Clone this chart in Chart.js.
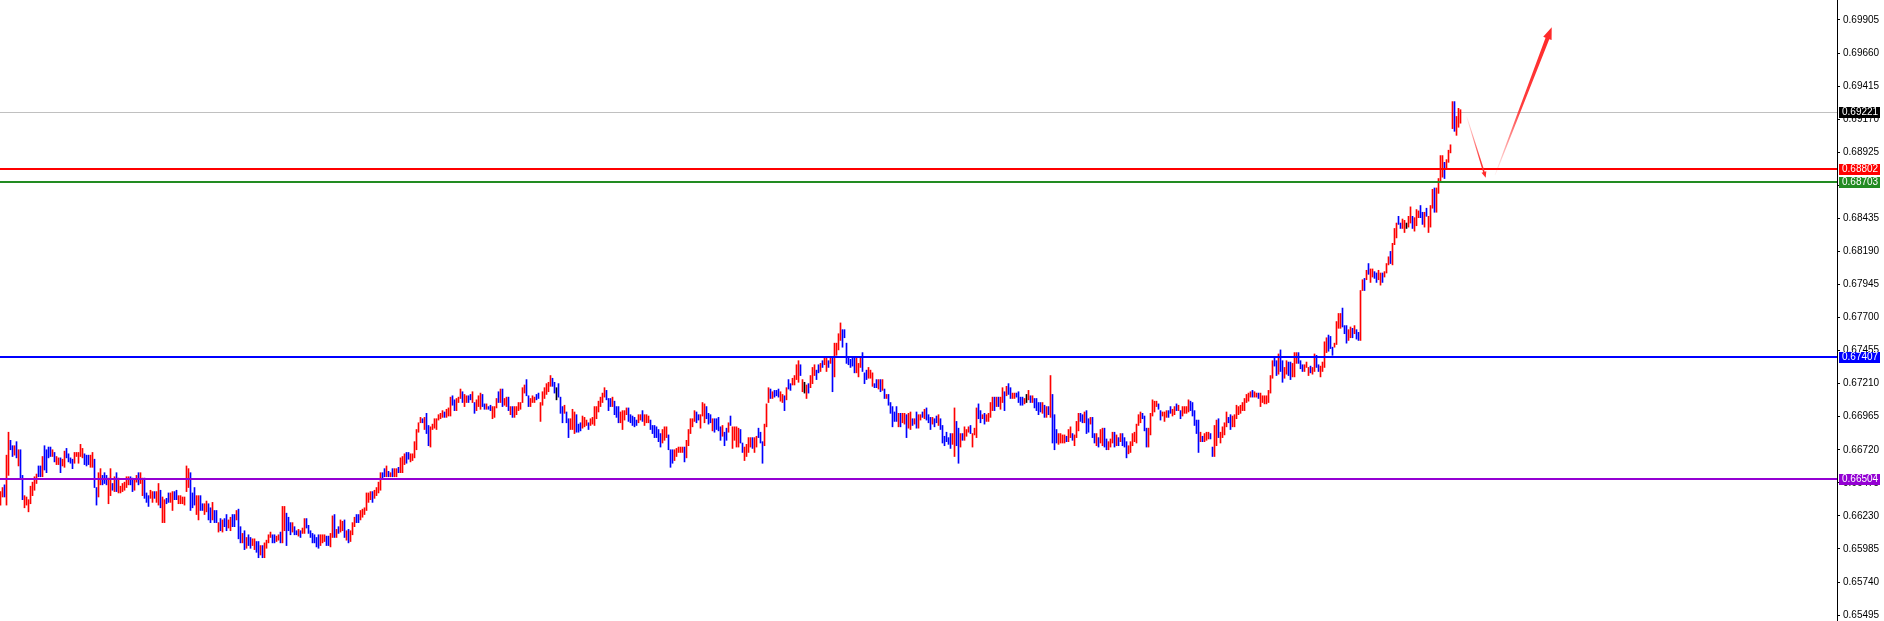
<!DOCTYPE html>
<html>
<head>
<meta charset="utf-8">
<script src="https://cdn.jsdelivr.net/npm/chart.js@4.4.1/dist/chart.umd.min.js"></script>
<style>
  html, body { margin: 0; padding: 0; background: #fff; }
  #wrap { width: 1884px; height: 621px; }
</style>
</head>
<body>
<div id="wrap"><canvas id="chart" width="1884" height="621"></canvas></div>
<script>
// bar highs, oldest first (10 per line)
const highs = [
  0.6641,0.6644,0.6646,0.6668,0.6685,0.6679,0.6675,0.6675,0.6678,0.6672,
  0.6672,0.6653,0.6638,0.6637,0.6635,0.6645,0.6648,0.6652,0.6654,0.6660,
  0.6660,0.6667,0.6675,0.6672,0.6674,0.6674,0.6672,0.6670,0.6667,0.6666,
  0.6666,0.6665,0.6671,0.6673,0.6669,0.6666,0.6665,0.6670,0.6670,0.6670,
  0.6676,0.6673,0.6669,0.6668,0.6668,0.6668,0.6670,0.6665,0.6644,0.6655,
  0.6658,0.6653,0.6655,0.6653,0.6651,0.6658,0.6647,0.6652,0.6655,0.6651,
  0.6645,0.6647,0.6648,0.6652,0.6652,0.6652,0.6651,0.6650,0.6653,0.6655,
  0.6655,0.6651,0.6651,0.6640,0.6638,0.6642,0.6641,0.6641,0.6641,0.6647,
  0.6642,0.6637,0.6635,0.6636,0.6640,0.6640,0.6641,0.6641,0.6642,0.6638,
  0.6638,0.6637,0.6637,0.6660,0.6658,0.6655,0.6640,0.6644,0.6638,0.6638,
  0.6638,0.6632,0.6632,0.6634,0.6632,0.6629,0.6633,0.6627,0.6627,0.6618,
  0.6621,0.6620,0.6621,0.6624,0.6620,0.6622,0.6624,0.6624,0.6627,0.6628,
  0.6615,0.6610,0.6612,0.6607,0.6609,0.6607,0.6606,0.6606,0.6604,0.6604,
  0.6601,0.6601,0.6603,0.6605,0.6609,0.6611,0.6609,0.6609,0.6608,0.6609,
  0.6611,0.6630,0.6630,0.6625,0.6622,0.6618,0.6618,0.6615,0.6612,0.6613,
  0.6612,0.6614,0.6621,0.6621,0.6616,0.6612,0.6610,0.6609,0.6607,0.6609,
  0.6609,0.6609,0.6609,0.6608,0.6608,0.6610,0.6623,0.6624,0.6613,0.6615,
  0.6620,0.6619,0.6620,0.6612,0.6613,0.6612,0.6618,0.6622,0.6624,0.6624,
  0.6627,0.6628,0.6629,0.6640,0.6640,0.6641,0.6641,0.6642,0.6644,0.6648,
  0.6655,0.6655,0.6658,0.6660,0.6656,0.6655,0.6658,0.6658,0.6658,0.6659,
  0.6666,0.6667,0.6669,0.6670,0.6670,0.6669,0.6669,0.6678,0.6687,0.6692,
  0.6696,0.6695,0.6696,0.6699,0.6690,0.6689,0.6691,0.6695,0.6695,0.6698,
  0.6699,0.6701,0.6700,0.6702,0.6703,0.6711,0.6712,0.6709,0.6710,0.6711,
  0.6717,0.6715,0.6713,0.6712,0.6712,0.6713,0.6715,0.6707,0.6709,0.6712,
  0.6714,0.6713,0.6706,0.6706,0.6704,0.6705,0.6704,0.6704,0.6710,0.6715,
  0.6717,0.6717,0.6710,0.6711,0.6711,0.6704,0.6704,0.6704,0.6704,0.6707,
  0.6707,0.6718,0.6720,0.6724,0.6712,0.6710,0.6712,0.6711,0.6713,0.6714,
  0.6707,0.6715,0.6718,0.6721,0.6722,0.6727,0.6725,0.6722,0.6718,0.6721,
  0.6711,0.6704,0.6705,0.6700,0.6695,0.6695,0.6702,0.6700,0.6698,0.6691,
  0.6692,0.6697,0.6696,0.6694,0.6692,0.6695,0.6696,0.6704,0.6704,0.6708,
  0.6711,0.6714,0.6718,0.6716,0.6710,0.6710,0.6711,0.6708,0.6704,0.6704,
  0.6700,0.6701,0.6701,0.6703,0.6703,0.6698,0.6697,0.6696,0.6694,0.6698,
  0.6698,0.6701,0.6698,0.6698,0.6697,0.6694,0.6690,0.6690,0.6689,0.6687,
  0.6684,0.6687,0.6689,0.6689,0.6683,0.6672,0.6672,0.6672,0.6673,0.6674,
  0.6674,0.6674,0.6674,0.6679,0.6687,0.6695,0.6695,0.6701,0.6700,0.6698,
  0.6698,0.6707,0.6706,0.6704,0.6699,0.6698,0.6695,0.6695,0.6695,0.6696,
  0.6689,0.6690,0.6685,0.6688,0.6692,0.6697,0.6689,0.6689,0.6689,0.6688,
  0.6687,0.6677,0.6674,0.6676,0.6681,0.6681,0.6681,0.6681,0.6682,0.6688,
  0.6685,0.6678,0.6691,0.6706,0.6718,0.6717,0.6715,0.6716,0.6716,0.6717,
  0.6715,0.6713,0.6712,0.6718,0.6724,0.6721,0.6725,0.6727,0.6735,0.6738,
  0.6735,0.6724,0.6722,0.6720,0.6721,0.6727,0.6733,0.6735,0.6731,0.6735,
  0.6736,0.6738,0.6741,0.6741,0.6738,0.6740,0.6741,0.6751,0.6751,0.6758,
  0.6766,0.6761,0.6761,0.6751,0.6740,0.6739,0.6740,0.6741,0.6741,0.6736,
  0.6741,0.6744,0.6729,0.6731,0.6733,0.6731,0.6729,0.6721,0.6724,0.6724,
  0.6724,0.6724,0.6717,0.6713,0.6713,0.6707,0.6704,0.6700,0.6704,0.6699,
  0.6699,0.6699,0.6699,0.6698,0.6699,0.6700,0.6695,0.6695,0.6700,0.6698,
  0.6698,0.6700,0.6702,0.6703,0.6698,0.6696,0.6696,0.6695,0.6697,0.6698,
  0.6695,0.6690,0.6682,0.6685,0.6681,0.6684,0.6684,0.6703,0.6693,0.6688,
  0.6684,0.6684,0.6689,0.6687,0.6689,0.6690,0.6684,0.6688,0.6703,0.6706,
  0.6701,0.6698,0.6699,0.6698,0.6699,0.6707,0.6711,0.6711,0.6711,0.6711,
  0.6711,0.6718,0.6715,0.6719,0.6721,0.6718,0.6714,0.6714,0.6714,0.6715,
  0.6711,0.6711,0.6710,0.6713,0.6716,0.6712,0.6712,0.6710,0.6710,0.6707,
  0.6707,0.6707,0.6705,0.6704,0.6704,0.6727,0.6713,0.6698,0.6687,0.6684,
  0.6684,0.6683,0.6683,0.6682,0.6687,0.6689,0.6684,0.6683,0.6693,0.6699,
  0.6699,0.6698,0.6700,0.6701,0.6695,0.6696,0.6696,0.6684,0.6684,0.6681,
  0.6687,0.6688,0.6688,0.6680,0.6678,0.6680,0.6685,0.6685,0.6683,0.6681,
  0.6684,0.6684,0.6681,0.6678,0.6675,0.6678,0.6684,0.6685,0.6691,0.6698,
  0.6700,0.6699,0.6697,0.6688,0.6688,0.6699,0.6709,0.6708,0.6708,0.6706,
  0.6701,0.6700,0.6700,0.6701,0.6701,0.6704,0.6702,0.6704,0.6706,0.6705,
  0.6701,0.6704,0.6704,0.6704,0.6709,0.6708,0.6707,0.6701,0.6694,0.6694,
  0.6685,0.6682,0.6684,0.6685,0.6685,0.6684,0.6674,0.6690,0.6694,0.6695,
  0.6685,0.6689,0.6692,0.6700,0.6696,0.6698,0.6697,0.6698,0.6705,0.6704,
  0.6705,0.6707,0.6710,0.6713,0.6714,0.6715,0.6716,0.6715,0.6714,0.6714,
  0.6714,0.6712,0.6712,0.6712,0.6716,0.6727,0.6738,0.6741,0.6738,0.6743,
  0.6746,0.6738,0.6733,0.6738,0.6737,0.6737,0.6736,0.6744,0.6744,0.6744,
  0.6738,0.6735,0.6735,0.6737,0.6733,0.6734,0.6733,0.6743,0.6742,0.6735,
  0.6734,0.6737,0.6752,0.6755,0.6757,0.6756,0.6748,0.6751,0.6767,0.6773,
  0.6773,0.6777,0.6764,0.6764,0.6761,0.6763,0.6762,0.6764,0.6761,0.6759,
  0.6790,0.6798,0.6799,0.6805,0.6810,0.6806,0.6806,0.6804,0.6803,0.6805,
  0.6803,0.6803,0.6804,0.6810,0.6815,0.6819,0.6825,0.6836,0.6840,0.6845,
  0.6840,0.6843,0.6842,0.6840,0.6845,0.6852,0.6845,0.6844,0.6850,0.6849,
  0.6853,0.6848,0.6848,0.6851,0.6845,0.6853,0.6865,0.6866,0.6866,0.6873,
  0.6890,0.6890,0.6885,0.6887,0.6894,0.6898,0.6930,0.6930,0.6919,0.6925,
  0.6924
];

// bar lows, same order
const lows = [
  0.6631,0.6637,0.6637,0.6631,0.6653,0.6672,0.6667,0.6668,0.6666,0.6660,
  0.6650,0.6635,0.6629,0.6631,0.6626,0.6632,0.6638,0.6642,0.6647,0.6652,
  0.6652,0.6652,0.6657,0.6655,0.6666,0.6667,0.6667,0.6663,0.6661,0.6661,
  0.6655,0.6660,0.6659,0.6666,0.6663,0.6662,0.6658,0.6662,0.6667,0.6662,
  0.6667,0.6666,0.6661,0.6660,0.6661,0.6659,0.6659,0.6644,0.6631,0.6637,
  0.6646,0.6646,0.6647,0.6646,0.6632,0.6638,0.6642,0.6641,0.6641,0.6640,
  0.6640,0.6641,0.6642,0.6644,0.6646,0.6646,0.6641,0.6642,0.6648,0.6646,
  0.6647,0.6638,0.6636,0.6633,0.6630,0.6636,0.6633,0.6636,0.6633,0.6631,
  0.6629,0.6618,0.6618,0.6632,0.6633,0.6633,0.6627,0.6635,0.6635,0.6632,
  0.6632,0.6632,0.6631,0.6641,0.6644,0.6627,0.6629,0.6631,0.6624,0.6620,
  0.6627,0.6627,0.6624,0.6626,0.6620,0.6618,0.6620,0.6618,0.6618,0.6611,
  0.6612,0.6611,0.6615,0.6612,0.6614,0.6612,0.6615,0.6615,0.6620,0.6606,
  0.6603,0.6603,0.6598,0.6599,0.6601,0.6599,0.6601,0.6598,0.6596,0.6592,
  0.6594,0.6592,0.6592,0.6599,0.6603,0.6607,0.6603,0.6603,0.6604,0.6605,
  0.6603,0.6603,0.6612,0.6601,0.6612,0.6609,0.6611,0.6609,0.6609,0.6608,
  0.6607,0.6610,0.6610,0.6614,0.6610,0.6607,0.6603,0.6603,0.6600,0.6599,
  0.6601,0.6603,0.6604,0.6601,0.6601,0.6600,0.6607,0.6607,0.6607,0.6610,
  0.6611,0.6612,0.6607,0.6605,0.6603,0.6604,0.6609,0.6615,0.6618,0.6618,
  0.6620,0.6622,0.6624,0.6627,0.6633,0.6635,0.6633,0.6636,0.6638,0.6640,
  0.6642,0.6650,0.6652,0.6652,0.6652,0.6652,0.6652,0.6652,0.6652,0.6655,
  0.6655,0.6655,0.6661,0.6662,0.6665,0.6663,0.6664,0.6666,0.6672,0.6685,
  0.6692,0.6692,0.6687,0.6684,0.6675,0.6674,0.6687,0.6688,0.6687,0.6694,
  0.6695,0.6696,0.6696,0.6696,0.6697,0.6697,0.6705,0.6701,0.6701,0.6707,
  0.6710,0.6707,0.6704,0.6707,0.6707,0.6709,0.6707,0.6699,0.6701,0.6704,
  0.6702,0.6704,0.6702,0.6702,0.6702,0.6701,0.6695,0.6696,0.6703,0.6707,
  0.6707,0.6704,0.6705,0.6704,0.6701,0.6698,0.6696,0.6696,0.6698,0.6701,
  0.6702,0.6707,0.6714,0.6712,0.6704,0.6704,0.6707,0.6707,0.6709,0.6710,
  0.6693,0.6705,0.6710,0.6713,0.6715,0.6719,0.6719,0.6714,0.6709,0.6711,
  0.6699,0.6692,0.6699,0.6692,0.6681,0.6687,0.6687,0.6684,0.6685,0.6685,
  0.6686,0.6688,0.6689,0.6690,0.6687,0.6690,0.6691,0.6690,0.6695,0.6700,
  0.6704,0.6707,0.6711,0.6709,0.6701,0.6704,0.6704,0.6698,0.6696,0.6692,
  0.6692,0.6687,0.6694,0.6698,0.6693,0.6692,0.6690,0.6689,0.6690,0.6692,
  0.6694,0.6693,0.6690,0.6692,0.6692,0.6687,0.6684,0.6681,0.6681,0.6678,
  0.6674,0.6677,0.6679,0.6681,0.6672,0.6659,0.6662,0.6664,0.6667,0.6670,
  0.6670,0.6670,0.6663,0.6666,0.6675,0.6684,0.6689,0.6693,0.6692,0.6694,
  0.6688,0.6697,0.6692,0.6695,0.6691,0.6692,0.6686,0.6685,0.6687,0.6686,
  0.6679,0.6682,0.6675,0.6679,0.6685,0.6690,0.6673,0.6679,0.6674,0.6674,
  0.6677,0.6670,0.6664,0.6667,0.6670,0.6674,0.6673,0.6670,0.6674,0.6681,
  0.6677,0.6662,0.6675,0.6689,0.6707,0.6710,0.6710,0.6711,0.6712,0.6711,
  0.6708,0.6707,0.6701,0.6709,0.6717,0.6716,0.6720,0.6720,0.6724,0.6722,
  0.6727,0.6715,0.6714,0.6710,0.6714,0.6718,0.6721,0.6727,0.6724,0.6729,
  0.6730,0.6733,0.6735,0.6730,0.6733,0.6736,0.6715,0.6726,0.6742,0.6746,
  0.6753,0.6748,0.6755,0.6736,0.6735,0.6733,0.6734,0.6729,0.6729,0.6726,
  0.6733,0.6730,0.6721,0.6724,0.6725,0.6725,0.6719,0.6718,0.6718,0.6717,
  0.6715,0.6716,0.6710,0.6710,0.6705,0.6699,0.6689,0.6693,0.6693,0.6689,
  0.6689,0.6692,0.6691,0.6681,0.6688,0.6687,0.6690,0.6691,0.6688,0.6688,
  0.6694,0.6696,0.6695,0.6694,0.6692,0.6687,0.6691,0.6689,0.6692,0.6690,
  0.6687,0.6677,0.6675,0.6678,0.6676,0.6673,0.6676,0.6667,0.6675,0.6662,
  0.6674,0.6679,0.6679,0.6682,0.6685,0.6684,0.6674,0.6683,0.6681,0.6695,
  0.6692,0.6695,0.6691,0.6693,0.6693,0.6696,0.6701,0.6701,0.6704,0.6704,
  0.6702,0.6707,0.6701,0.6712,0.6713,0.6710,0.6710,0.6710,0.6711,0.6707,
  0.6705,0.6705,0.6706,0.6707,0.6709,0.6707,0.6707,0.6703,0.6701,0.6698,
  0.6700,0.6699,0.6696,0.6696,0.6698,0.6696,0.6677,0.6672,0.6677,0.6676,
  0.6677,0.6677,0.6677,0.6678,0.6678,0.6681,0.6679,0.6675,0.6681,0.6686,
  0.6693,0.6692,0.6692,0.6684,0.6685,0.6691,0.6681,0.6677,0.6675,0.6674,
  0.6677,0.6675,0.6674,0.6672,0.6672,0.6674,0.6677,0.6674,0.6675,0.6675,
  0.6678,0.6675,0.6674,0.6666,0.6669,0.6670,0.6675,0.6678,0.6677,0.6690,
  0.6692,0.6695,0.6686,0.6674,0.6674,0.6683,0.6697,0.6700,0.6704,0.6702,
  0.6694,0.6697,0.6693,0.6696,0.6696,0.6699,0.6697,0.6698,0.6701,0.6701,
  0.6695,0.6697,0.6699,0.6699,0.6700,0.6701,0.6697,0.6690,0.6684,0.6670,
  0.6678,0.6678,0.6678,0.6679,0.6680,0.6680,0.6667,0.6667,0.6675,0.6681,
  0.6677,0.6681,0.6683,0.6689,0.6692,0.6687,0.6689,0.6689,0.6695,0.6698,
  0.6699,0.6701,0.6701,0.6707,0.6708,0.6711,0.6711,0.6711,0.6711,0.6710,
  0.6704,0.6707,0.6706,0.6706,0.6707,0.6714,0.6725,0.6734,0.6727,0.6728,
  0.6730,0.6722,0.6725,0.6728,0.6727,0.6724,0.6726,0.6726,0.6736,0.6736,
  0.6732,0.6730,0.6730,0.6733,0.6727,0.6729,0.6728,0.6730,0.6733,0.6730,
  0.6726,0.6730,0.6733,0.6744,0.6745,0.6747,0.6742,0.6748,0.6750,0.6762,
  0.6762,0.6763,0.6758,0.6751,0.6753,0.6755,0.6755,0.6758,0.6754,0.6753,
  0.6753,0.6790,0.6790,0.6798,0.6802,0.6796,0.6800,0.6799,0.6796,0.6798,
  0.6794,0.6796,0.6800,0.6803,0.6809,0.6810,0.6809,0.6824,0.6829,0.6839,
  0.6836,0.6836,0.6833,0.6836,0.6837,0.6840,0.6836,0.6834,0.6838,0.6844,
  0.6844,0.6839,0.6837,0.6845,0.6833,0.6837,0.6851,0.6848,0.6848,0.6862,
  0.6870,0.6874,0.6873,0.6880,0.6885,0.6892,0.6910,0.6908,0.6905,0.6911,
  0.6914
];

// r = up bar, b = down bar, k = unchanged
const sides = [
  'rrbrrbbrbr','bbrrrrrrrb','brbbbbrbrr','brrbbbbrrr','rrbbbrrbbr',
  'rbbbrrbrbr','rrrrrbbrrb','rrbbbrrbrr','brrbbrrbbr','rrrrrbbbrr',
  'bbrrbbrbbr','brbbrrbbrb','brbrbbrrbb','rbrrrrbbrr','brrbbbrbbr',
  'brrbbbbbbb','rrrbbrrbrb','rrbrbrrrbb','rrrrrrbrrr','rbbrbrbrrb',
  'rrrbbrrrrr','rbrbbrrrrr','rrbrrrbbrr','rbrrbbrbrr','rbbrbbrrrb',
  'rbrrbrbrrr','rrrbbrrrbb','rrrrrrbbkb','bbrbbrrrbb','brrrbrrrrr',
  'rrrbbbrbbb','rrrrbbbbbr','rbrrrbbbbb','brrrbbbrrr','rrbrrrrrbb',
  'rrrbbbrbbb','brbbrbrrrr','bbrrrrbrrb','bbrrrbrbbb','rrbrbbrrrr',
  'brkrbrrrbb','rbrrbrbrrr','rbbbbbbbrr','rbbbrrrbbr','brbrbbbbbr',
  'brrbrrbrbr','rbrbbbrbbr','bbbbbbrrbb','rbrrrbrrrb','brbrrrrbrb',
  'rrbrbbrrbb','bbrkrbrbbb','brbrbrbbbr','rrrbrrbrrr','bbrbbrbbrb',
  'rrbbrrrbrb','rbbbrrrrrr','rbbbrrrrrb','brrrbbrrbr','brrrrbbbbb',
  'rbrrrbbrrb','rrrrbbrrrr','rrrrrrbrrb','rrrrrrrbbr','bbrrbbrrrb',
  'bbrrrbrrbb','rrrrbbbrrr','rbbbrrbrbb','rrbrbrrbbr','rbrrrbrrrb',
  'brrkrrbrrr','bbrbrrrbrr','rrbrrrrbrr','r'
].join('');

// price axis labels
const yTicks = [0.69905, 0.69660, 0.69415, 0.69170, 0.68925, 0.68680, 0.68435,
  0.68190, 0.67945, 0.67700, 0.67455, 0.67210, 0.66965, 0.66720, 0.66475,
  0.66230, 0.65985, 0.65740, 0.65495];

// horizontal levels: current price, resistance/support lines
const levels = [0.69221, 0.68802, 0.68703, 0.67407, 0.66504];
const levelColors = ['#c0c0c0', '#ff0000', '#228b22', '#0000ff', '#9400d3'];
const levelBoxColors = ['#000000', '#ff0000', '#228b22', '#0000ff', '#9400d3'];

// projected path: [bar index, price]
const arrowDown = [[733.1, 0.69188], [742.6, 0.68736]];
const arrowUp = [[747.25, 0.68756], [775.6, 0.69851]];

const sideColor = { r: '#ff0000', b: '#0000ff', k: '#000000' };
const FONT = "'Liberation Sans', Arial, sans-serif";

function drawLevel(chart, k, w) {
  const { ctx, chartArea } = chart;
  const yy = Math.round(chart.scales.y.getPixelForValue(levels[k]));
  ctx.save();
  ctx.fillStyle = levelColors[k];
  ctx.fillRect(chartArea.left, yy - (w > 1 ? 1 : 0), chartArea.right - chartArea.left, w);
  ctx.restore();
}

function arrow(chart, pts, w0, w1, headLen, headW, solidAt) {
  const { ctx, scales: { x, y } } = chart;
  const p0 = [x.getPixelForValue(pts[0][0]), y.getPixelForValue(pts[0][1])];
  const p1 = [x.getPixelForValue(pts[1][0]), y.getPixelForValue(pts[1][1])];
  const dx = p1[0] - p0[0], dy = p1[1] - p0[1], len = Math.hypot(dx, dy);
  const ux = dx / len, uy = dy / len, nx = -uy, ny = ux;
  const bx = p1[0] - ux * headLen, by = p1[1] - uy * headLen;
  const g = ctx.createLinearGradient(p0[0], p0[1], p1[0], p1[1]);
  g.addColorStop(0, 'rgba(255,40,40,0.05)');
  g.addColorStop(solidAt, 'rgba(255,40,40,0.9)');
  g.addColorStop(1, 'rgba(255,40,40,1)');
  ctx.save();
  ctx.fillStyle = g;
  ctx.beginPath();
  ctx.moveTo(p0[0] + nx * w0 / 2, p0[1] + ny * w0 / 2);
  ctx.lineTo(bx + nx * w1 / 2, by + ny * w1 / 2);
  ctx.lineTo(bx + nx * headW / 2, by + ny * headW / 2);
  ctx.lineTo(p1[0], p1[1]);
  ctx.lineTo(bx - nx * headW / 2, by - ny * headW / 2);
  ctx.lineTo(bx - nx * w1 / 2, by - ny * w1 / 2);
  ctx.lineTo(p0[0] - nx * w0 / 2, p0[1] - ny * w0 / 2);
  ctx.closePath();
  ctx.fill();
  ctx.restore();
}

const levelPlugin = {
  id: 'levels',
  beforeDatasetsDraw(chart) {
    // current price line sits behind the bars
    drawLevel(chart, 0, 1);
  },
  afterDatasetsDraw(chart) {
    for (let k = 1; k < levels.length; k++) drawLevel(chart, k, 2);
    arrow(chart, arrowDown, 0.8, 1.6, 6, 5, 0.7);
    arrow(chart, arrowUp, 0.8, 4, 12, 9, 0.45);
  },
  afterDraw(chart) {
    const { ctx, chartArea } = chart;
    ctx.save();
    ctx.font = '10px ' + FONT;
    ctx.textBaseline = 'middle';
    levels.forEach((v, k) => {
      const yy = Math.round(chart.scales.y.getPixelForValue(v));
      ctx.fillStyle = levelBoxColors[k];
      ctx.fillRect(chartArea.right + 2, yy - 5, 41, 11);
      ctx.fillStyle = '#ffffff';
      ctx.fillText(v.toFixed(5), chartArea.right + 5, yy + 0.5);
    });
    ctx.restore();
  }
};

new Chart(document.getElementById('chart'), {
  type: 'bar',
  data: {
    datasets: [{
      data: highs.map((h, i) => ({ x: i, y: [lows[i], h] })),
      backgroundColor: highs.map((h, i) => sideColor[sides[i]]),
      borderWidth: 0,
      barThickness: 1,
      borderSkipped: false
    }]
  },
  options: {
    responsive: false,
    animation: false,
    layout: { padding: 0 },
    plugins: { legend: { display: false }, tooltip: { enabled: false } },
    scales: {
      x: { type: 'linear', min: -0.25, max: 918.25, offset: false, display: false },
      y: {
        position: 'right',
        min: 0.65451,
        max: 0.70053,
        afterBuildTicks: s => { s.ticks = yTicks.map(v => ({ value: v })); },
        afterFit: s => { s.width = 47; s.paddingTop = 0; s.paddingBottom = 0; },
        grid: { display: true, drawOnChartArea: false, drawTicks: true, tickLength: 3, color: '#000' },
        border: { display: true, color: '#000', width: 1 },
        ticks: {
          padding: 3,
          color: '#000',
          autoSkip: false,
          maxRotation: 0,
          font: { family: FONT, size: 10 },
          callback: v => v.toFixed(5)
        }
      }
    }
  },
  plugins: [levelPlugin]
});
</script>
</body>
</html>
